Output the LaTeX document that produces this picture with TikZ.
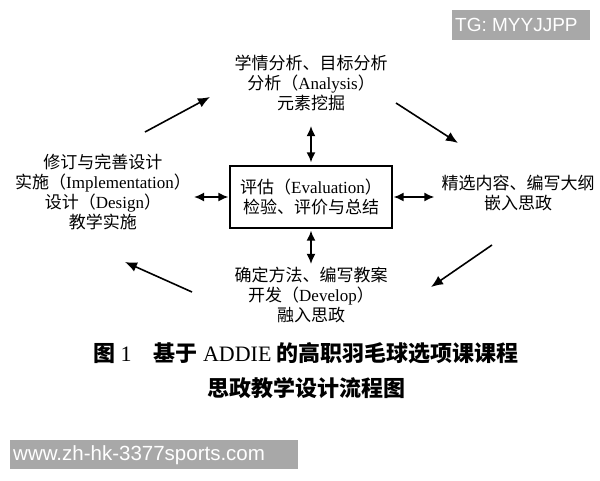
\documentclass[tikz,border=0pt]{standalone}
\usepackage{fontspec}
\setmainfont{Liberation Serif}
\newfontfamily\cjk{Noto Sans CJK SC}
\newfontfamily\wmfont{Liberation Sans}
\usetikzlibrary{arrows.meta}
\newcommand{\zh}[1]{{\cjk #1}}
\definecolor{wmgray}{RGB}{168,168,168}
\tikzset{
  txt/.style={align=center, inner sep=1pt, font=\fontsize{17}{20}\selectfont},
  captxt/.style={align=center, inner sep=1pt, font=\fontsize{22}{26}\selectfont},
  flow/.style={line width=1.6pt, -{Latex[length=12pt,width=10pt]}},
  dbl/.style={line width=1.6pt, {Latex[length=10pt,width=9pt]}-{Latex[length=10pt,width=9pt]}},
  wmtext/.style={text=white, inner sep=0pt, anchor=west, font=\wmfont\fontsize{19}{19}\selectfont}
}
\begin{document}
\begin{tikzpicture}[x=1pt,y=-1pt]
\useasboundingbox (0,0) rectangle (600,480);
\fill[white] (0,0) rectangle (600,480);
%% Stages
\node[txt] (analysis) at (311,83) {\zh{学情分析、目标分析}\\ \zh{分析（}Analysis\zh{）}\\ \zh{元素挖掘}};
\node[txt, draw, line width=1.3pt, minimum width=162pt, minimum height=62pt] (eval) at (311,197) {\zh{评估（}Evaluation\zh{）}\\ \zh{检验、评价与总结}};
\node[txt] (design) at (103,192) {\zh{修订与完善设计}\\ \zh{实施（}Implementation\zh{）}\\ \zh{设计（}Design\zh{）}\\ \zh{教学实施}};
\node[txt] (content) at (518,193) {\zh{精选内容、编写大纲}\\ \zh{嵌入思政}};
\node[txt] (develop) at (311,295) {\zh{确定方法、编写教案}\\ \zh{开发（}Develop\zh{）}\\ \zh{融入思政}};
%% Evaluation links
\draw[dbl, shorten <=3pt, shorten >=14pt] (eval.north) -- (analysis.south);
\draw[dbl, shorten <=2pt, shorten >=2pt] (eval.south) -- (develop.north);
\draw[dbl, shorten <=1pt, shorten >=2pt] (eval.west) -- (eval.west -| design.east);
\draw[dbl, shorten <=1pt, shorten >=6pt] (eval.east) -- (eval.east -| content.west);
%% Cycle arrows
\coordinate (ul0) at (145,132); \coordinate (ul1) at (210,97);
\coordinate (ur0) at (396,103); \coordinate (ur1) at (458,143);
\coordinate (lr0) at (492,245); \coordinate (lr1) at (431,287);
\coordinate (ll0) at (192,292); \coordinate (ll1) at (125,262);
\draw[flow] (ul0) -- (ul1);
\draw[flow] (ur0) -- (ur1);
\draw[flow] (lr0) -- (lr1);
\draw[flow] (ll0) -- (ll1);
%% Caption
\node[captxt] (cap1) at (306,353) {{\cjk\bfseries 图}~1\hspace{1em}{\cjk\bfseries 基于}~ADDIE~{\cjk\bfseries 的高职羽毛球选项课课程}};
\node[captxt] (cap2) at (306,388) {{\cjk\bfseries 思政教学设计流程图}};
%% Watermarks
\fill[wmgray] (452,10) rectangle (590,40);
\node[wmtext] (tg) at (455,25) {TG: MYYJJPP};
\fill[wmgray] (10,440) rectangle (298,469);
\node[wmtext, font=\wmfont\fontsize{20.5}{20.5}\selectfont] (site) at (13,455) {www.zh-hk-3377sports.com};
\end{tikzpicture}
\end{document}
